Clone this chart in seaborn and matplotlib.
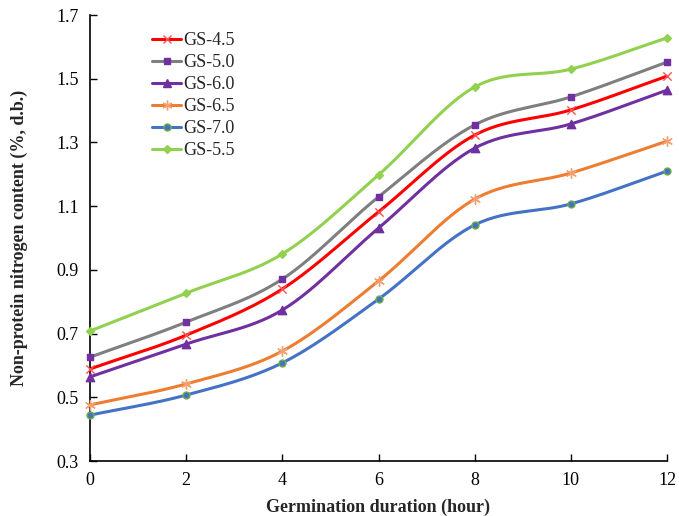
import numpy as np
import pandas as pd
import matplotlib
matplotlib.use("Agg")
import matplotlib.pyplot as plt
import seaborn as sns

hours = [0, 2, 4, 6, 8, 10, 12]
gs45 = [0.589, 0.695, 0.840, 1.082, 1.323, 1.402, 1.508]
gs50 = [0.626, 0.736, 0.871, 1.129, 1.355, 1.443, 1.552]
gs60 = [0.564, 0.667, 0.774, 1.031, 1.282, 1.358, 1.464]
gs65 = [0.476, 0.542, 0.645, 0.865, 1.122, 1.204, 1.304]
gs70 = [0.444, 0.507, 0.608, 0.808, 1.041, 1.107, 1.210]
gs55 = [0.708, 0.827, 0.950, 1.198, 1.474, 1.530, 1.628]

series_names = ["GS-4.5", "GS-5.0", "GS-6.0", "GS-6.5", "GS-7.0", "GS-5.5"]
series_vals = [gs45, gs50, gs60, gs65, gs70, gs55]
y_ticks = [0.3, 0.5, 0.7, 0.9, 1.1, 1.3, 1.5, 1.7]
x_ticks = [0, 2, 4, 6, 8, 10, 12]

sns.set_theme(style="ticks")
plt.rcParams["font.family"] = ["Liberation Serif", "DejaVu Serif"]

styles = {
    "GS-4.5": dict(line="#FF0000", marker="x", mfc="#FF5050", mec="#FF5050", ms=6),
    "GS-5.0": dict(line="#7F7F7F", marker="s", mfc="#7030A0", mec="#7030A0", ms=5),
    "GS-6.0": dict(line="#7030A0", marker="^", mfc="#7030A0", mec="#7030A0", ms=6),
    "GS-6.5": dict(line="#ED7D31", marker=(6, 2, 0), mfc="#F4A070", mec="#F4A070", ms=7),
    "GS-7.0": dict(line="#4472C4", marker="o", mfc="#4472C4", mec="#70AD47", ms=5),
    "GS-5.5": dict(line="#92D050", marker="D", mfc="#92D050", mec="#92D050", ms=4),
}


def smooth(x, y, n=30):
    # Catmull-Rom style smoothing (like a spreadsheet's smoothed line)
    x = np.asarray(x, float)
    y = np.asarray(y, float)
    px = np.concatenate([[2 * x[0] - x[1]], x, [2 * x[-1] - x[-2]]])
    py = np.concatenate([[2 * y[0] - y[1]], y, [2 * y[-1] - y[-2]]])
    xs, ys = [], []
    t = np.linspace(0, 1, n)
    for i in range(1, len(px) - 2):
        p0, p1, p2, p3 = [np.array([px[j], py[j]]) for j in (i - 1, i, i + 1, i + 2)]
        c1 = p1 + (p2 - p0) / 6
        c2 = p2 - (p3 - p1) / 6
        b = ((1 - t) ** 3)[:, None] * p1 + (3 * (1 - t) ** 2 * t)[:, None] * c1 \
            + (3 * (1 - t) * t ** 2)[:, None] * c2 + (t ** 3)[:, None] * p2
        xs.append(b[:, 0])
        ys.append(b[:, 1])
    return np.concatenate(xs), np.concatenate(ys)


fig = plt.figure(figsize=(6.79, 5.16), dpi=100)
ax = fig.add_axes([90 / 679, 55 / 516, 577 / 679, 446 / 516])

from matplotlib.lines import Line2D
handles = []
for name, vals in zip(series_names, series_vals):
    st = styles[name]
    sx, sy = smooth(hours, vals)
    ax.plot(sx, sy, color=st["line"], lw=2.2, zorder=2)
    df = pd.DataFrame({"h": hours, "v": vals})
    sns.scatterplot(data=df, x="h", y="v", ax=ax, marker=st["marker"], s=st["ms"] ** 2,
                    color=st["mfc"], edgecolor=st["mec"], linewidth=1, zorder=3, clip_on=False)
    handles.append(Line2D([0], [0], color=st["line"], lw=2.2, marker=st["marker"],
                          markersize=st["ms"], markerfacecolor=st["mfc"],
                          markeredgecolor=st["mec"], label=name))

ax.set_xlim(0, 12)
ax.set_ylim(0.3, 1.7)
ax.set_xticks(x_ticks)
ax.set_yticks(y_ticks)
ax.set_yticklabels([f"{v:.1f}" for v in y_ticks])
ax.tick_params(direction="in", length=5, width=1, labelsize=13, colors="black", pad=8)
for s in ["top", "right"]:
    ax.spines[s].set_visible(False)
for s in ["left", "bottom"]:
    ax.spines[s].set_color("black")
    ax.spines[s].set_linewidth(1.2)

ax.set_xlabel("Germination duration (hour)", fontsize=13, fontweight="bold", labelpad=7)
ax.set_ylabel("Non-protein nitrogen content (%, d.b.)", fontsize=13, fontweight="bold", labelpad=20)

leg = ax.legend(handles=handles, loc="upper left", bbox_to_anchor=(0.085, 0.99),
                frameon=False, fontsize=13, handlelength=1.65, handletextpad=0.1,
                labelspacing=0.28, borderaxespad=0.3)

fig.savefig("out.png", dpi=100)
